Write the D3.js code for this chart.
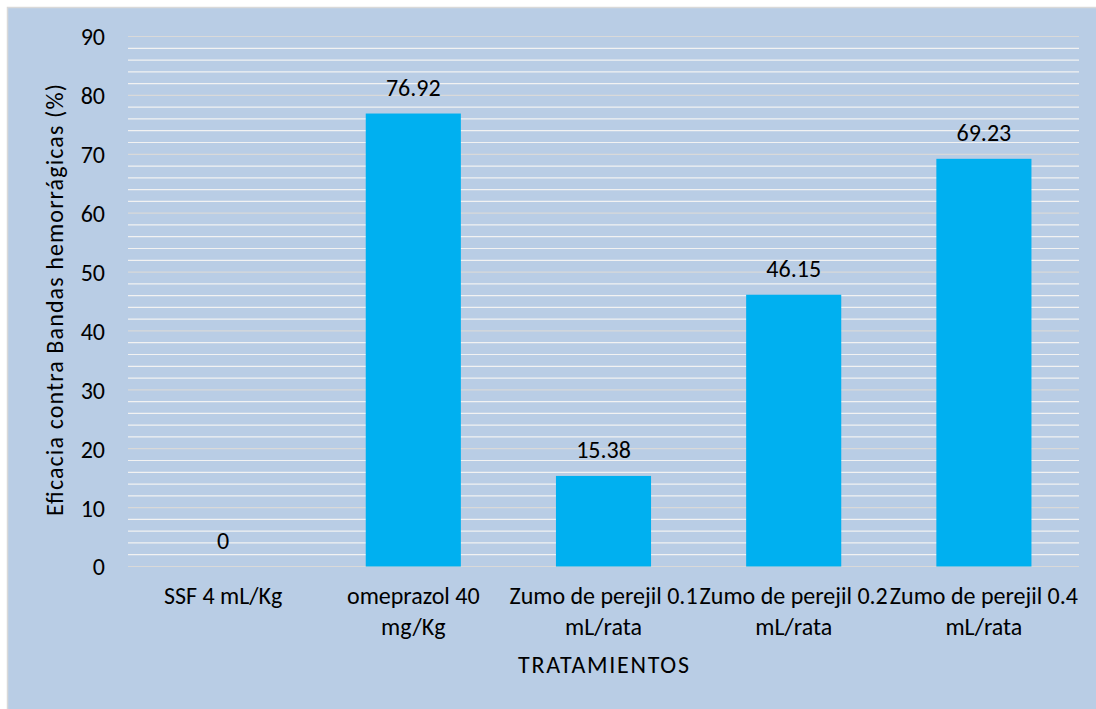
<!DOCTYPE html>
<html><head><meta charset="utf-8">
<script src="https://cdn.jsdelivr.net/npm/d3@7"></script>
<style>
html,body{margin:0;padding:0;background:#fff;}
text{font-family:Carlito,Lato,"Open Sans",sans-serif;fill:#000;}
</style></head>
<body><svg id="chart" width="1096" height="709"></svg>
<script>
const categories = ["SSF 4 mL/Kg", "omeprazol 40 mg/Kg", "Zumo de perejil 0.1 mL/rata", "Zumo de perejil 0.2 mL/rata", "Zumo de perejil 0.4 mL/rata"];
const categoryLines = [["SSF 4 mL/Kg"], ["omeprazol 40", "mg/Kg"], ["Zumo de perejil 0.1", "mL/rata"], ["Zumo de perejil 0.2", "mL/rata"], ["Zumo de perejil 0.4", "mL/rata"]];
const values = [0, 76.92, 15.38, 46.15, 69.23];
const valueLabels = ["0", "76.92", "15.38", "46.15", "69.23"];
const yTicks = [0, 10, 20, 30, 40, 50, 60, 70, 80, 90];
const yMinorTicks = [2,4,6,8,12,14,16,18,22,24,26,28,32,34,36,38,42,44,46,48,52,54,56,58,62,64,66,68,72,74,76,78,82,84,86,88];
const yTitle = "Eficacia contra Bandas hemorrágicas (%)";
const xTitle = "TRATAMIENTOS";

const svg = d3.select("#chart");
const fs = 24;
// background
svg.append("rect").attr("x",7.5).attr("y",7.5).attr("width",1096).attr("height",709)
  .attr("fill","#B9CDE5").attr("stroke","#D9D9D9").attr("stroke-width",1.5);

const L=128, R=1079, T=36.5, B=566.5;
const x = d3.scaleBand().domain(categories).range([L,R]).paddingInner(0.5).paddingOuter(0.25);
const y = d3.scaleLinear().domain([0,90]).range([B,T]);

// minor gridlines
svg.append("g").selectAll("line").data(yMinorTicks).join("line")
  .attr("x1",L).attr("x2",R).attr("y1",d=>y(d)).attr("y2",d=>y(d))
  .attr("stroke","#F2F2F2").attr("stroke-width",1.2);
// major gridlines
svg.append("g").selectAll("line").data(yTicks).join("line")
  .attr("x1",L).attr("x2",R).attr("y1",d=>y(d)).attr("y2",d=>y(d))
  .attr("stroke","#D9D9D9").attr("stroke-width",1.2);

// y axis labels
const yAxis = d3.axisLeft(y).tickValues(yTicks).tickSize(0).tickPadding(0).tickFormat(d3.format("d"));
const ya = svg.append("g").attr("transform",`translate(${L-23},0)`).call(yAxis);
ya.select(".domain").remove();
ya.attr("font-family",null).attr("font-size",null);
ya.selectAll("text").attr("font-size",fs).attr("fill","#000").attr("dy","0.35em");

// bars
svg.append("g").selectAll("rect").data(values).join("rect")
  .attr("x",(d,i)=>x(categories[i])).attr("width",x.bandwidth())
  .attr("y",d=>y(d)).attr("height",d=>y(0)-y(d))
  .attr("fill","#00B0F0");

// value labels
svg.append("g").selectAll("text").data(values).join("text")
  .attr("x",(d,i)=>x(categories[i])+x.bandwidth()/2)
  .attr("y",d=>y(d)-18)
  .attr("text-anchor","middle").attr("font-size",fs)
  .text((d,i)=>valueLabels[i]);

// category labels
const cg = svg.append("g").selectAll("text").data(categories).join("text")
  .attr("x",d=>x(d)+x.bandwidth()/2).attr("y",603)
  .attr("text-anchor","middle").attr("font-size",fs);
cg.each(function(d,i){
  const t=d3.select(this);
  categoryLines[i].forEach((ln,j)=>{
    t.append("tspan").attr("x",x(d)+x.bandwidth()/2).attr("y",604+j*30.5).text(ln);
  });
});

// axis titles
svg.append("text").attr("x",(L+R)/2).attr("y",673).attr("text-anchor","middle").attr("font-size",fs)
  .attr("textLength",171).attr("lengthAdjust","spacing").text(xTitle);
svg.append("text").attr("transform",`translate(63,${(83+517)/2}) rotate(-90)`).attr("text-anchor","middle").attr("font-size",fs)
  .attr("textLength",432).attr("lengthAdjust","spacing").text(yTitle);
</script></body></html>
